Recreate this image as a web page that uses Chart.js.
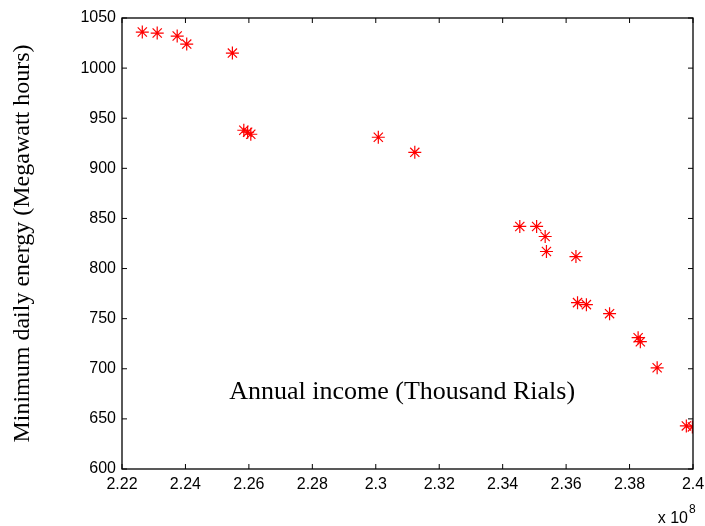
<!DOCTYPE html>
<html>
<head>
<meta charset="utf-8">
<script src="https://cdn.jsdelivr.net/npm/chart.js@4/dist/chart.umd.min.js"></script>
<style>
  html, body { margin: 0; padding: 0; background: #fff; }
  canvas { display: block; }
</style>
</head>
<body>
<canvas id="myChart" width="705" height="526"></canvas>
<script>
"use strict";

// annual income, in units of 10^8 thousand rials
const income = [
  2.2264, 2.2311, 2.2374, 2.2404, 2.2548, 2.2584, 2.2596, 2.2606,
  2.3008, 2.3123, 2.3454, 2.3507, 2.3534, 2.3538, 2.3631, 2.3636,
  2.3664, 2.3737, 2.3827, 2.3834, 2.3887, 2.3979, 2.3998,
];
// minimum daily energy, megawatt hours
const energy = [
  1036, 1035, 1032, 1024, 1015, 938, 936, 934,
  931, 916, 842, 842, 832, 817, 812, 766,
  764, 755, 731, 727, 701, 643, 642,
];
const xTitle = "Annual income (Thousand Rials)";
const yTitle = "Minimum daily energy (Megawatt hours)";
const xExponent = "8";

const boxPlugin = {
  id: "box",
  afterDraw: (chart) => {
    const ctx = chart.ctx;
    const a = chart.chartArea;
    const sx = chart.scales.x;
    const sy = chart.scales.y;
    ctx.save();
    ctx.strokeStyle = "#000";
    ctx.lineWidth = 1.3;
    ctx.strokeRect(a.left, a.top, a.right - a.left, a.bottom - a.top);
    ctx.lineWidth = 1;
    ctx.beginPath();
    sx.ticks.forEach((t) => {
      const px = sx.getPixelForValue(t.value);
      ctx.moveTo(px, a.bottom);
      ctx.lineTo(px, a.bottom - 5);
      ctx.moveTo(px, a.top);
      ctx.lineTo(px, a.top + 5);
    });
    sy.ticks.forEach((t) => {
      const py = sy.getPixelForValue(t.value);
      ctx.moveTo(a.left, py);
      ctx.lineTo(a.left + 5, py);
      ctx.moveTo(a.right, py);
      ctx.lineTo(a.right - 5, py);
    });
    ctx.stroke();

    // x label sits inside the axes
    ctx.fillStyle = "#000";
    ctx.font = "26px 'Liberation Serif'";
    ctx.textAlign = "center";
    ctx.textBaseline = "alphabetic";
    ctx.fillText(xTitle, sx.getPixelForValue(2.3083), sy.getPixelForValue(670));

    // exponent note
    ctx.font = "16px 'Liberation Sans'";
    ctx.textAlign = "right";
    ctx.fillText("x 10", a.right - 5, 523);
    ctx.font = "12px 'Liberation Sans'";
    ctx.textAlign = "left";
    ctx.fillText(xExponent, a.right - 4, 513);
    ctx.restore();
  },
};

new Chart("myChart", {
  type: "scatter",
  data: {
    datasets: [
      {
        data: income.map((v, i) => ({ x: v, y: energy[i] })),
        pointStyle: "star",
        pointRadius: 6.5,
        pointHoverRadius: 6.5,
        borderColor: "#ff0000",
        backgroundColor: "#ff0000",
        pointBorderWidth: 1.2,
      },
    ],
  },
  options: {
    responsive: false,
    animation: false,
    events: [],
    layout: { padding: { top: 18, right: 12, left: 0, bottom: 0 } },
    plugins: {
      legend: { display: false },
      tooltip: { enabled: false },
    },
    scales: {
      x: {
        type: "linear",
        min: 2.22,
        max: 2.4,
        afterFit: (s) => {
          s.height = 57;
          s.paddingLeft = 0;
          s.paddingRight = 0;
        },
        grid: { display: false, drawTicks: false },
        border: { display: false },
        ticks: {
          stepSize: 0.02,
          padding: 6,
          color: "#000",
          font: { family: "'Liberation Sans'", size: 16 },
          maxRotation: 0,
          callback: (v) => Number(v.toFixed(2)).toString(),
        },
      },
      y: {
        min: 600,
        max: 1050,
        afterFit: (s) => {
          s.width = 122;
          s.paddingTop = 0;
          s.paddingBottom = 0;
        },
        grid: { display: false, drawTicks: false },
        border: { display: false },
        ticks: {
          stepSize: 50,
          padding: 6,
          color: "#000",
          font: { family: "'Liberation Sans'", size: 16 },
          callback: (v) => String(v),
        },
        title: {
          display: true,
          text: yTitle,
          color: "#000",
          padding: { top: 8, bottom: 0 },
          font: { family: "'Liberation Serif'", size: 24 },
        },
      },
    },
  },
  plugins: [boxPlugin],
});
</script>
</body>
</html>
